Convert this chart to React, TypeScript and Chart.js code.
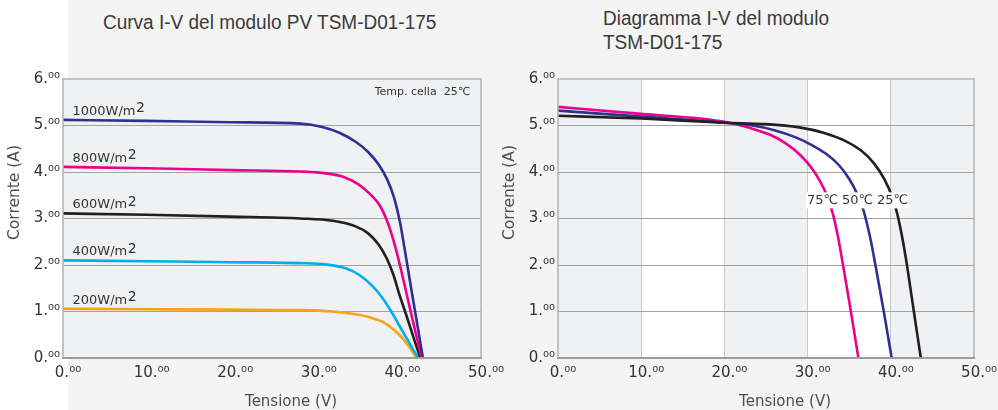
import React, { useEffect, useRef } from "react";
import { Chart, registerables } from "chart.js";
Chart.register(...registerables);

// ---- axis ticks ----
const voltageTicks = [0, 10, 20, 30, 40, 50];
const currentTicks = [0, 1, 2, 3, 4, 5, 6];

// ---- left chart: irradiance curves at 25 °C ----
const irradianceNames = ["1000W/m", "800W/m", "600W/m", "400W/m", "200W/m"];
const v1000 = [0, 10, 20, 28.4, 31.0, 33.0, 35.0, 36.5, 37.8, 38.8, 39.6, 40.3, 41.0, 41.7, 42.4, 43.05];
const i1000 = [5.12, 5.1, 5.07, 5.04, 4.97, 4.85, 4.65, 4.43, 4.15, 3.83, 3.45, 2.93, 2.2, 1.44, 0.7, 0];
const v800 = [0, 10, 20, 28.4, 31.5, 33.5, 35.3, 36.7, 37.9, 38.7, 39.5, 40.3, 41.1, 42.0, 42.9];
const i800 = [4.11, 4.08, 4.04, 4.01, 3.97, 3.9, 3.74, 3.53, 3.28, 2.98, 2.55, 2.0, 1.38, 0.68, 0];
const v600 = [0, 10, 20, 28.4, 32.3, 35.0, 36.5, 37.7, 38.7, 39.5, 40.3, 41.2, 42.0, 42.75];
const i600 = [3.11, 3.08, 3.04, 3.0, 2.95, 2.83, 2.68, 2.45, 2.15, 1.8, 1.33, 0.85, 0.4, 0];
const v400 = [0, 10, 20, 28.4, 31.5, 33.8, 35.5, 37.0, 38.3, 39.5, 40.6, 41.6, 42.5];
const i400 = [2.1, 2.08, 2.06, 2.04, 2.01, 1.93, 1.78, 1.55, 1.27, 0.93, 0.58, 0.27, 0];
const v200 = [0, 10, 20, 28.4, 32.3, 35.0, 36.8, 38.3, 39.5, 40.5, 41.4, 42.3];
const i200 = [1.06, 1.05, 1.04, 1.03, 1.0, 0.94, 0.87, 0.77, 0.62, 0.45, 0.24, 0];
const cellTempNote = "Temp. cella  25\u2103";

// ---- right chart: temperature curves ----
const tempNames = ["25\u2103", "50\u2103", "75\u2103"];
const v25 = [0, 10, 20, 25, 29, 32, 34.5, 36.5, 38.0, 39.2, 40.2, 40.7, 41.2, 41.8, 42.6, 43.6];
const i25 = [5.21, 5.15, 5.06, 5.03, 4.96, 4.84, 4.67, 4.45, 4.18, 3.85, 3.45, 3.15, 2.75, 2.15, 1.2, 0];
const v50 = [0, 10, 20, 23, 26, 28.5, 30.5, 32.3, 33.8, 35.0, 35.9, 36.7, 37.5, 38.3, 39.2, 40.1];
const i50 = [5.32, 5.19, 5.06, 5.01, 4.9, 4.75, 4.58, 4.38, 4.14, 3.85, 3.55, 3.18, 2.6, 1.85, 0.95, 0];
const v75 = [0, 10, 20, 23, 25.5, 27.5, 29.2, 30.5, 31.5, 32.3, 33.0, 33.6, 34.3, 35.2, 36.1];
const i75 = [5.4, 5.25, 5.08, 4.95, 4.8, 4.6, 4.35, 4.08, 3.8, 3.5, 3.12, 2.65, 1.95, 1.0, 0];

const leftTitle = "Curva I-V del modulo PV TSM-D01-175";
const rightTitle = ["Diagramma I-V del modulo", "TSM-D01-175"];
const xTitle = "Tensione (V)";
const yTitle = "Corrente (A)";

const FONT = "'DejaVu Sans', Verdana, sans-serif";
const TICK_FONT = { family: FONT, size: 15 };

const pts = (v: number[], c: number[]) => v.map((x, k) => ({ x, y: c[k] }));
const sup = (v: number) => `${v}.\u2070\u2070`;

function scales(xGrid: boolean, yWidth: number) {
  const first = voltageTicks[0];
  const last = voltageTicks[voltageTicks.length - 1];
  return {
    x: {
      type: "linear",
      min: first,
      max: last,
      afterBuildTicks: (s: any) => {
        s.ticks = voltageTicks.map((value) => ({ value }));
      },
      afterFit: (s: any) => {
        s.height = 52;
      },
      ticks: {
        callback: (v: any) => sup(v),
        font: TICK_FONT,
        color: "#333333",
        padding: 6,
        labelOffset: 5,
        maxRotation: 0,
        autoSkip: false,
      },
      grid: {
        display: xGrid,
        drawTicks: false,
        color: (c: any) =>
          c.tick && c.tick.value > first && c.tick.value < last ? "#c9c9c9" : "rgba(0,0,0,0)",
        lineWidth: 1,
      },
      border: { display: false },
    },
    y: {
      type: "linear",
      min: currentTicks[0],
      max: currentTicks[currentTicks.length - 1],
      afterBuildTicks: (s: any) => {
        s.ticks = currentTicks.map((value) => ({ value }));
      },
      afterFit: (s: any) => {
        s.width = yWidth;
      },
      ticks: {
        callback: (v: any) => sup(v),
        font: TICK_FONT,
        color: "#333333",
        padding: 3,
        autoSkip: false,
      },
      grid: {
        drawTicks: false,
        color: (c: any) =>
          c.tick && c.tick.value > currentTicks[0] && c.tick.value < currentTicks[currentTicks.length - 1]
            ? "#a3a3a3"
            : "rgba(0,0,0,0)",
        lineWidth: 1,
      },
      border: { display: false },
    },
  };
}

function drawAxisTitles(chart: any) {
  const { ctx, chartArea: a } = chart;
  ctx.save();
  ctx.fillStyle = "#4d4d4d";
  ctx.font = `15.5px ${FONT}`;
  ctx.textAlign = "center";
  ctx.textBaseline = "middle";
  ctx.save();
  ctx.translate(a.left - 48, (a.top + a.bottom) / 2 - 26);
  ctx.rotate(-Math.PI / 2);
  ctx.fillText(yTitle, 0, 0);
  ctx.restore();
  ctx.font = `15px ${FONT}`;
  ctx.textBaseline = "alphabetic";
  ctx.fillText(xTitle, (a.left + a.right) / 2 + 19, a.bottom + 48);
  ctx.restore();
}

function drawFrame(chart: any) {
  const { ctx, chartArea: a } = chart;
  ctx.save();
  ctx.strokeStyle = "#b2b2b2";
  ctx.lineWidth = 1.5;
  ctx.strokeRect(a.left, a.top, a.right - a.left, a.bottom - a.top);
  ctx.strokeStyle = "#9c9c9c";
  ctx.lineWidth = 2;
  ctx.beginPath();
  ctx.moveTo(a.left - 1, a.bottom);
  ctx.lineTo(a.right + 1, a.bottom);
  ctx.stroke();
  ctx.restore();
}

const leftDecor = {
  id: "leftDecor",
  beforeDraw(chart: any) {
    const { ctx, chartArea: a } = chart;
    ctx.save();
    ctx.fillStyle = "#f0f1f3";
    ctx.fillRect(a.left, a.top, a.right - a.left, a.bottom - a.top);
    ctx.restore();
  },
  afterDraw(chart: any) {
    const { ctx, chartArea: a, scales: s } = chart;
    drawFrame(chart);
    drawAxisTitles(chart);
    ctx.save();
    ctx.fillStyle = "#333333";
    ctx.textBaseline = "alphabetic";
    chart.data.datasets.forEach((ds: any, k: number) => {
      const p0 = ds.data[0];
      const x = s.x.getPixelForValue(p0.x) + 9.5;
      const y = s.y.getPixelForValue(p0.y) - 5;
      ctx.font = `13px ${FONT}`;
      ctx.textAlign = "left";
      const name = irradianceNames[k];
      ctx.fillText(name, x, y);
      const w = ctx.measureText(name).width;
      ctx.font = `14px ${FONT}`;
      ctx.fillText("2", x + w + 0.5, y - 2.5);
    });
    ctx.font = `11px ${FONT}`;
    ctx.textAlign = "right";
    ctx.fillText(cellTempNote, a.right - 11, a.top + 16);
    ctx.restore();
  },
};

const tempLabelAnchors = [
  { v: 40.2, i: 3.39 },
  { v: 36.0, i: 3.39 },
  { v: 31.8, i: 3.39 },
];

const rightDecor = {
  id: "rightDecor",
  beforeDraw(chart: any) {
    const { ctx, chartArea: a, scales: s } = chart;
    ctx.save();
    ctx.fillStyle = "#f0f1f3";
    ctx.fillRect(a.left, a.top, a.right - a.left, a.bottom - a.top);
    ctx.fillStyle = "#ffffff";
    for (let k = 1; k < voltageTicks.length - 1; k += 2) {
      const x0 = s.x.getPixelForValue(voltageTicks[k]);
      const x1 = s.x.getPixelForValue(voltageTicks[k + 1]);
      ctx.fillRect(x0, a.top, x1 - x0, a.bottom - a.top);
    }
    ctx.restore();
  },
  afterDraw(chart: any) {
    const { ctx, scales: s } = chart;
    drawFrame(chart);
    drawAxisTitles(chart);
    ctx.save();
    ctx.font = `13px ${FONT}`;
    ctx.textAlign = "center";
    ctx.textBaseline = "middle";
    tempLabelAnchors.forEach((an, k) => {
      const x = s.x.getPixelForValue(an.v);
      const y = s.y.getPixelForValue(an.i);
      const w = ctx.measureText(tempNames[k]).width;
      ctx.fillStyle = "#ffffff";
      ctx.fillRect(x - w / 2 - 1, y - 8, w + 2, 16);
      ctx.fillStyle = "#333333";
      ctx.fillText(tempNames[k], x, y + 0.5);
    });
    ctx.restore();
  },
};

function lineDs(v: number[], c: number[], color: string) {
  return {
    data: pts(v, c),
    borderColor: color,
    backgroundColor: color,
    borderWidth: 2.6,
    pointRadius: 0,
    fill: false,
    cubicInterpolationMode: "monotone",
  };
}

function leftConfig(): any {
  return {
    type: "line",
    data: {
      datasets: [
        lineDs(v1000, i1000, "#2e3192"),
        lineDs(v800, i800, "#ec008c"),
        lineDs(v600, i600, "#231f20"),
        lineDs(v400, i400, "#00aeef"),
        lineDs(v200, i200, "#f7a21b"),
      ],
    },
    options: {
      animation: false,
      responsive: false,
      maintainAspectRatio: false,
      devicePixelRatio: 1,
      layout: { padding: { left: 0, right: 39, top: 79, bottom: 0 } },
      plugins: { legend: { display: false }, tooltip: { enabled: false }, title: { display: false } },
      scales: scales(false, 63),
    },
    plugins: [leftDecor],
  };
}

function rightConfig(): any {
  return {
    type: "line",
    data: {
      datasets: [
        lineDs(v25, i25, "#231f20"),
        lineDs(v50, i50, "#2e3192"),
        lineDs(v75, i75, "#ec008c"),
      ],
    },
    options: {
      animation: false,
      responsive: false,
      maintainAspectRatio: false,
      devicePixelRatio: 1,
      layout: { padding: { left: 0, right: 22, top: 79, bottom: 0 } },
      plugins: { legend: { display: false }, tooltip: { enabled: false }, title: { display: false } },
      scales: scales(true, 80),
    },
    plugins: [rightDecor],
  };
}

function ChartCanvas({ make, left, width }: { make: () => any; left: number; width: number }) {
  const ref = useRef<HTMLCanvasElement>(null);
  useEffect(() => {
    const chart = new Chart(ref.current as HTMLCanvasElement, make());
    return () => chart.destroy();
  }, []);
  return (
    <canvas
      ref={ref}
      width={width}
      height={410}
      style={{ position: "absolute", left, top: 0, width, height: 410 }}
    />
  );
}

const titleStyle: React.CSSProperties = {
  position: "absolute",
  fontFamily: "'Liberation Sans', Arial, sans-serif",
  fontSize: 20,
  color: "#3a3a3a",
  whiteSpace: "nowrap",
  lineHeight: "24px",
  transform: "scaleX(0.95)",
  transformOrigin: "left top",
};

export default function App() {
  return (
    <div
      style={{
        position: "absolute",
        left: 0,
        top: 0,
        width: 998,
        height: 410,
        overflow: "hidden",
        background: "linear-gradient(to right, #ffffff 68px, #f4f4f4 68px)",
      }}
    >
      <div style={{ ...titleStyle, left: 103, top: 10 }}>{leftTitle}</div>
      <div style={{ ...titleStyle, left: 603, top: 6 }}>
        {rightTitle.map((t) => (
          <div key={t}>{t}</div>
        ))}
      </div>
      <ChartCanvas make={leftConfig} left={0} width={520} />
      <ChartCanvas make={rightConfig} left={478} width={520} />
    </div>
  );
}
